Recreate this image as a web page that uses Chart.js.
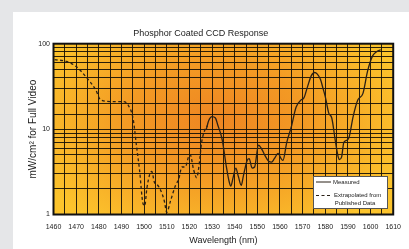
<!DOCTYPE html>
<html>
<head>
<meta charset="utf-8">
<script src="https://cdn.jsdelivr.net/npm/chart.js@4.4.1/dist/chart.umd.min.js"></script>
<style>
  html, body { margin: 0; padding: 0; background: #e5e6e8; width: 409px; height: 249px; overflow: hidden; }
  #panel { position: absolute; left: 13px; top: 12px; width: 396px; height: 237px; background: #fff; }
  #chart { position: absolute; left: 0; top: 0; }
</style>
</head>
<body>
<div id="panel"></div>
<canvas id="chart" width="409" height="249"></canvas>
<script>
// extrapolated (dashed) curve
const extrapNm = [1460.5, 1465.7, 1470, 1474.3, 1478.6, 1480.8, 1485.7, 1490.9, 1493, 1495.2, 1496.6, 1498, 1499.5, 1500.3, 1501.2, 1502.4, 1503.4, 1504.5, 1506, 1507.4, 1508.9, 1510, 1511.7, 1513.9, 1515.3, 1516.7, 1518.2, 1519.6, 1520.4, 1521.8, 1523.2, 1524.4, 1525.4, 1526.8, 1528];
const extrapVal = [65, 62, 54, 41, 29, 22, 21, 21, 19, 13, 6.5, 3.3, 1.35, 1.27, 2.0, 2.9, 3.2, 2.4, 2.2, 1.9, 1.45, 1.06, 1.45, 2.2, 2.6, 3.6, 3.6, 4.7, 5.0, 3.4, 2.7, 4.0, 7.0, 9.7, 11];

// measured (solid) curve
const measuredNm = [1527.5, 1528.5, 1530, 1531.5, 1532.6, 1534, 1534.7, 1536.2, 1537.6, 1538.3, 1539.3, 1540.5, 1541.6, 1542.9, 1543.8, 1545.5, 1546.4, 1547.7, 1548.8, 1550.5, 1552, 1553.4, 1555, 1556.3, 1557.5, 1559.2, 1560.3, 1561.3, 1563, 1565, 1567.1, 1569.3, 1570.5, 1572.1, 1573.8, 1575.3, 1576.5, 1577.9, 1579, 1580, 1581.5, 1582.9, 1584.4, 1585.5, 1586.2, 1587.2, 1588.2, 1589.5, 1590.5, 1592.3, 1594.4, 1596.6, 1598.7, 1600.9, 1602.5, 1604.5];
const measuredVal = [10, 12.5, 14, 13.5, 11, 8.5, 7, 3.8, 2.4, 2.15, 2.7, 3.5, 2.8, 2.2, 2.8, 4.3, 4.5, 3.5, 3.6, 6.5, 5.8, 4.9, 4.2, 4.1, 4.5, 5.2, 4.6, 4.3, 7, 10.6, 18, 22, 23, 31, 42, 46, 44, 38, 30, 24, 15.5, 13.4, 7.4, 5, 4.4, 4.7, 7, 7.4, 8, 14, 22, 26, 48, 72, 80, 85];

const yLabelled = [1, 10, 100];
const legendItems = ['Measured', ['Extrapolated from', 'Published Data']];

const FONT = '"Liberation Sans", Arial, sans-serif';
const LINE = '#2a2016';

function toPoints(xs, ys) {
  return xs.map((x, i) => ({ x: x, y: ys[i] }));
}

// orange-to-yellow glow behind the grid
const backdrop = {
  id: 'backdrop',
  beforeDraw(chart) {
    const { ctx, chartArea: a } = chart;
    const cx = a.left + a.width * 0.48, cy = a.top + a.height * 0.45;
    const rx = a.width * 0.58, ry = a.height * 0.75;
    ctx.save();
    ctx.beginPath();
    ctx.rect(a.left, a.top, a.width, a.height);
    ctx.clip();
    ctx.translate(cx, cy);
    ctx.scale(1, ry / rx);
    const g = ctx.createRadialGradient(0, 0, 0, 0, 0, rx);
    g.addColorStop(0, '#ee8522');
    g.addColorStop(0.45, '#f39a24');
    g.addColorStop(1, '#fcc42c');
    ctx.fillStyle = g;
    ctx.fillRect(-rx * 2, -rx * 2, rx * 4, rx * 4);
    ctx.restore();
  }
};

// frame + legend box
const overlay = {
  id: 'overlay',
  afterDraw(chart) {
    const { ctx, chartArea: a } = chart;
    ctx.save();
    ctx.strokeStyle = '#111';
    ctx.lineWidth = 2;
    ctx.strokeRect(a.left, a.top, a.width, a.height);

    const bx = 313, by = 176, bw = 74, bh = 32;
    ctx.fillStyle = '#fff';
    ctx.fillRect(bx, by, bw, bh);
    ctx.strokeStyle = '#555';
    ctx.lineWidth = 1;
    ctx.strokeRect(bx + 0.5, by + 0.5, bw, bh);

    ctx.strokeStyle = LINE;
    ctx.lineWidth = 1;
    ctx.beginPath();
    ctx.moveTo(316, 182); ctx.lineTo(331, 182);
    ctx.stroke();
    ctx.setLineDash([3, 2.5]);
    ctx.beginPath();
    ctx.moveTo(316, 195.5); ctx.lineTo(331, 195.5);
    ctx.stroke();
    ctx.setLineDash([]);

    ctx.fillStyle = '#222';
    ctx.font = '6px ' + FONT;
    ctx.textBaseline = 'middle';
    ctx.textAlign = 'left';
    ctx.fillText(legendItems[0], 333, 182);
    ctx.fillText(legendItems[1][0], 334, 195);
    ctx.textAlign = 'center';
    ctx.fillText(legendItems[1][1], 355, 203.5);
    ctx.restore();
  }
};

new Chart(document.getElementById('chart'), {
  type: 'line',
  data: {
    datasets: [{
      label: 'Measured',
      data: toPoints(measuredNm, measuredVal),
      borderColor: LINE,
      borderWidth: 1.3,
      pointRadius: 0,
      cubicInterpolationMode: 'monotone'
    }, {
      label: 'Extrapolated from Published Data',
      data: toPoints(extrapNm, extrapVal),
      borderColor: LINE,
      borderWidth: 1.3,
      borderDash: [3, 2.5],
      pointRadius: 0,
      cubicInterpolationMode: 'monotone'
    }]
  },
  options: {
    responsive: false,
    animation: false,
    devicePixelRatio: 1,
    layout: { padding: { left: 0, right: 7.5, top: 0, bottom: 0 } },
    plugins: {
      legend: { display: false },
      tooltip: { enabled: false },
      title: {
        display: true,
        text: 'Phosphor Coated CCD Response',
        color: '#222',
        font: { family: FONT, size: 9, weight: 'normal' },
        padding: { top: 28.6, bottom: 4.3 }
      }
    },
    scales: {
      x: {
        type: 'linear',
        min: 1460,
        max: 1610,
        afterFit(scale) { scale.height = 34.5; },
        border: { display: false },
        grid: { color: 'rgba(20,14,4,0.9)', lineWidth: 1, drawTicks: false },
        ticks: {
          stepSize: 5,
          autoSkip: false,
          maxRotation: 0,
          padding: 8,
          color: '#222',
          font: { family: FONT, size: 7 },
          callback: (v) => (v % 10 === 0 ? String(v) : '')
        },
        title: {
          display: true,
          text: 'Wavelength (nm)',
          color: '#222',
          font: { family: FONT, size: 9 },
          padding: { top: 0, bottom: 2.6 }
        }
      },
      y: {
        type: 'logarithmic',
        min: 1,
        max: 100,
        afterFit(scale) { scale.width = 53.5; },
        border: { display: false },
        grid: { color: 'rgba(20,14,4,0.9)', lineWidth: 1, drawTicks: false },
        ticks: {
          autoSkip: false,
          padding: 3.5,
          color: '#222',
          font: { family: FONT, size: 7 },
          callback: (v) => (yLabelled.includes(v) ? String(v) : '')
        },
        title: {
          display: true,
          text: 'mW/cm² for Full Video',
          color: '#222',
          font: { family: FONT, size: 10 },
          padding: { top: 27, bottom: 0 }
        }
      }
    }
  },
  plugins: [backdrop, overlay]
});
</script>
</body>
</html>
